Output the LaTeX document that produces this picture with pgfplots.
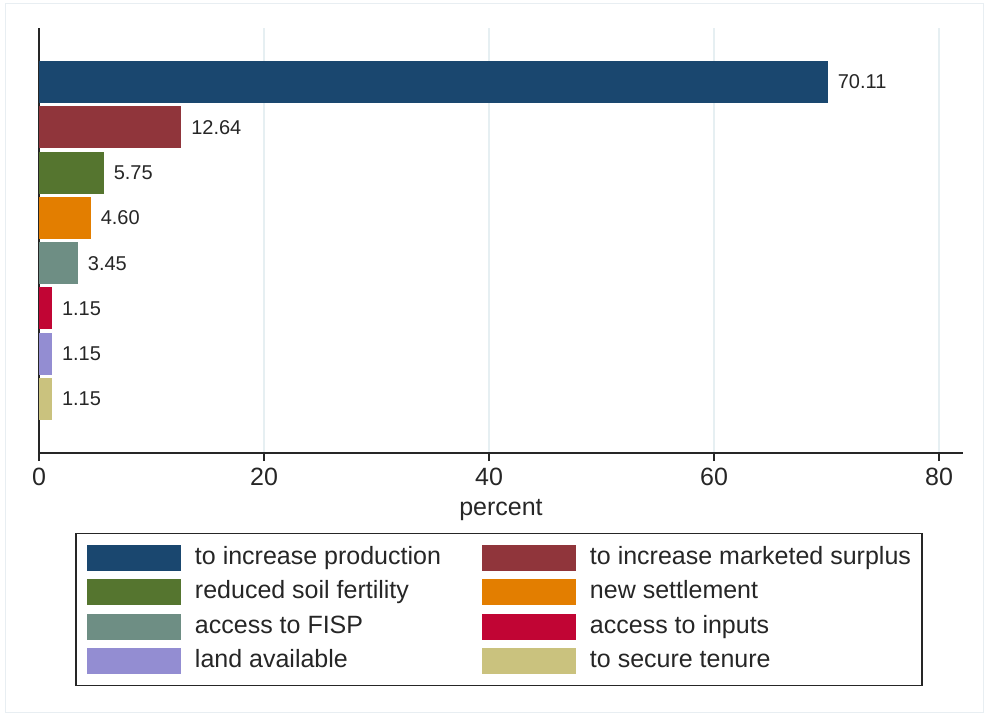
\documentclass[border=0pt]{standalone}
\usepackage{pgfplots}
\pgfplotsset{compat=1.18}
\usepackage{fontspec}
\setmainfont{Liberation Sans}
\definecolor{c1}{HTML}{1A476F}
\definecolor{c2}{HTML}{90353B}
\definecolor{c3}{HTML}{55752F}
\definecolor{c4}{HTML}{E37E00}
\definecolor{c5}{HTML}{6E8E84}
\definecolor{c6}{HTML}{C10534}
\definecolor{c7}{HTML}{938DD2}
\definecolor{c8}{HTML}{CAC27E}
\definecolor{gridc}{HTML}{E6EFF2}
\definecolor{framec}{HTML}{E8EEF2}
\begin{document}
\begin{tikzpicture}
\useasboundingbox (0pt,0pt) rectangle (494pt,-358pt);
\draw[framec, line width=0.5pt] (2.5pt,-2pt) rectangle (491.5pt,-356pt);
\begin{axis}[
  at={(19.5pt,-226.5pt)}, anchor=south west,
  scale only axis, width=462pt, height=212.5pt,
  xmin=0, xmax=82.13, ymin=-0.192, ymax=9.192,
  xbar, bar width=0.927, bar shift=0pt,
  axis x line=bottom, axis y line=left,
  axis line style={-, line width=0.6pt, black!85},
  ytick=\empty,
  xtick={0,20,40,60,80},
  xtick align=outside, major tick length=4pt,
  tick style={line width=0.6pt, black!85},
  xmajorgrids, grid style={gridc, line width=0.7pt},
  /pgf/number format/assume math mode=true,
  tick label style={font=\fontsize{12.5}{15}\selectfont, text=black!85},
  xlabel={percent},
  xlabel style={font=\fontsize{12.5}{15}\selectfont, text=black!85},
  point meta=x,
  nodes near coords={\pgfmathprintnumber[fixed,fixed zerofill,precision=2,assume math mode=true]{\pgfplotspointmeta}},
  every node near coord/.append style={font=\fontsize{10}{12}\selectfont, text=black!85, anchor=west, xshift=1.5pt},
  legend columns=2,
  legend cell align=left,
  legend image code/.code={\fill[#1] (0pt,-6.5pt) rectangle (47pt,6.5pt);},
  legend style={at={(0.4978,-0.1882)}, anchor=north, draw=black!85, line width=0.6pt,
    inner sep=5.5pt, row sep=4.3pt,
    font=\fontsize{12.5}{15}\selectfont, text=black!85,
    nodes={inner sep=0pt, text height=9pt, text depth=2.5pt},
    /tikz/every odd column/.append style={column sep=7pt},
    /tikz/every even column/.append style={column sep=20.5pt}},
]
\addplot[fill=c1, draw=none] coordinates {(70.11,8)};
\addlegendentry{to increase production}
\addplot[fill=c2, draw=none] coordinates {(12.64,7)};
\addlegendentry{to increase marketed surplus}
\addplot[fill=c3, draw=none] coordinates {(5.75,6)};
\addlegendentry{reduced soil fertility}
\addplot[fill=c4, draw=none] coordinates {(4.60,5)};
\addlegendentry{new settlement}
\addplot[fill=c5, draw=none] coordinates {(3.45,4)};
\addlegendentry{access to FISP}
\addplot[fill=c6, draw=none] coordinates {(1.15,3)};
\addlegendentry{access to inputs}
\addplot[fill=c7, draw=none] coordinates {(1.15,2)};
\addlegendentry{land available}
\addplot[fill=c8, draw=none] coordinates {(1.15,1)};
\addlegendentry{to secure tenure}
\end{axis}
\end{tikzpicture}
\end{document}
